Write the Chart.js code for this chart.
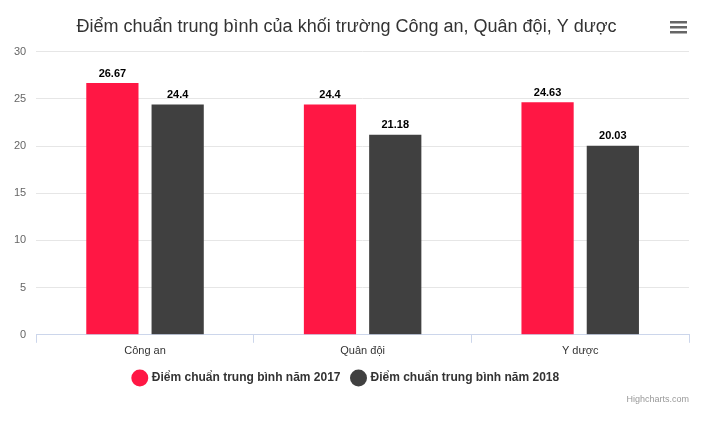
<!DOCTYPE html>
<html><head><meta charset="utf-8">
<script src="https://cdn.jsdelivr.net/npm/chart.js@4"></script>
<style>body{margin:0;background:#fff}#w{width:720px;height:422px;position:relative}</style>
</head><body><div id="w"><canvas id="c"></canvas></div>
<script>
const categories = ["Công an", "Quân đội", "Y dược"];
const series2017 = [26.67, 24.4, 24.63];
const series2018 = [24.4, 21.18, 20.03];
const yTicks = [0, 5, 10, 15, 20, 25, 30];

const extras = {
  id: 'extras',
  afterDatasetsDraw(chart) {
    const ctx = chart.ctx;
    ctx.save();
    ctx.font = 'bold 11px "Liberation Sans", Arial, sans-serif';
    ctx.fillStyle = '#000';
    ctx.textAlign = 'center';
    ctx.textBaseline = 'bottom';
    chart.data.datasets.forEach((ds, i) => {
      chart.getDatasetMeta(i).data.forEach((el, j) => {
        ctx.fillText(String(ds.data[j]), el.x, el.y - 4);
      });
    });
    ctx.fillStyle = '#666';
    for (let k = 0; k < 3; k++) {
      ctx.fillRect(670, 21 + k * 5, 17, 2.5);
    }
    ctx.font = '9px "Liberation Sans", Arial, sans-serif';
    ctx.fillStyle = '#999';
    ctx.textAlign = 'right';
    ctx.textBaseline = 'alphabetic';
    ctx.fillText('Highcharts.com', 689, 402);
    ctx.restore();
  }
};

new Chart(document.getElementById('c'), {
  type: 'bar',
  data: {
    labels: categories,
    datasets: [
      { label: 'Điểm chuẩn trung bình năm 2017', data: series2017, backgroundColor: '#ff1744' },
      { label: 'Điểm chuẩn trung bình năm 2018', data: series2018, backgroundColor: '#404040' }
    ]
  },
  options: {
    responsive: true, maintainAspectRatio: false, animation: false,
    layout: { padding: { left: 4, right: 31, top: 0, bottom: 28 } },
    datasets: { bar: { categoryPercentage: 0.6, barPercentage: 0.8 } },
    plugins: {
      title: { display: true, text: 'Điểm chuẩn trung bình của khối trường Công an, Quân đội, Y dược',
        color: '#333', font: { size: 18, weight: 'normal', family: '"Liberation Sans", Arial, sans-serif' },
        padding: { top: 16, bottom: 14 } },
      legend: { position: 'bottom',
        labels: { usePointStyle: true, pointStyle: 'circle', boxWidth: 13, boxHeight: 13, padding: 12,
          color: '#333', font: { size: 12, weight: 'bold', family: '"Liberation Sans", Arial, sans-serif' } } },
      tooltip: { enabled: false }
    },
    scales: {
      y: { min: 0, max: 30, afterBuildTicks(s) { s.ticks = yTicks.map(v => ({ value: v })); },
        ticks: { color: '#666', font: { size: 11, family: '"Liberation Sans", Arial, sans-serif' }, padding: 10 },
        grid: { color: '#e6e6e6', drawTicks: false }, border: { display: false } },
      x: { grid: { offset: true, drawOnChartArea: false, tickLength: 8, color: '#ccd6eb' },
        border: { color: '#ccd6eb' },
        ticks: { color: '#333', padding: 2, font: { size: 11, family: '"Liberation Sans", Arial, sans-serif' } } }
    }
  },
  plugins: [extras]
});
</script></body></html>
